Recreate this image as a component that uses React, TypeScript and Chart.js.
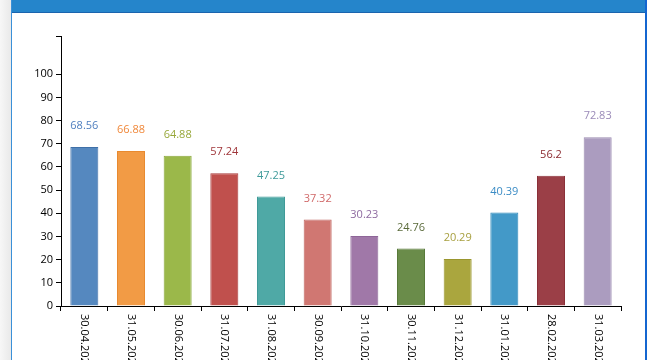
import React, { useEffect, useRef } from "react";
import { Chart, registerables } from "chart.js";

Chart.register(...registerables);

const categories = [
  "30.04.2022", "31.05.2022", "30.06.2022", "31.07.2022", "31.08.2022", "30.09.2022",
  "31.10.2022", "30.11.2022", "31.12.2022", "31.01.2023", "28.02.2023", "31.03.2023",
];
const values = [68.56, 66.88, 64.88, 57.24, 47.25, 37.32, 30.23, 24.76, 20.29, 40.39, 56.2, 72.83];
const barColors = [
  "#5588BF", "#F29B45", "#9BB84A", "#C0504D", "#4FA9A6", "#D07772",
  "#A078A8", "#6A8C4A", "#AAA63E", "#4399C8", "#9B3F47", "#AB9CBF",
];
const borderColors = [
  "#3F70A8", "#E88A30", "#8AA83C", "#A83A3A", "#3F9A98", "#C06560",
  "#8E6698", "#587A3A", "#9A962E", "#2F88BA", "#8A3038", "#9A8AB0",
];
const labelColors = [
  "#4F7FBF", "#F0883A", "#98A83A", "#A0363A", "#3E9A9A", "#D06868",
  "#8E6AA0", "#5A6A3A", "#A8A040", "#3B8CC5", "#8B2A30", "#9A8AB8",
];
const yTicks = [0, 10, 20, 30, 40, 50, 60, 70, 80, 90, 100];
const yMax = 116.5;

const FONT = "'Open Sans', 'DejaVu Sans', sans-serif";

export default function App() {
  const ref = useRef<HTMLCanvasElement | null>(null);
  useEffect(() => {
    const canvas = ref.current;
    if (!canvas) return;
    const valueLabels = {
      id: "valueLabels",
      afterDatasetsDraw(chart: any) {
        const ctx = chart.ctx;
        const meta = chart.getDatasetMeta(0);
        ctx.save();
        ctx.font = `11px ${FONT}`;
        ctx.textAlign = "center";
        ctx.textBaseline = "middle";
        meta.data.forEach((bar: any, i: number) => {
          ctx.fillStyle = labelColors[i];
          ctx.fillText(String(values[i]), bar.x, bar.y - 21);
        });
        ctx.restore();
      },
    };
    const xLabels = {
      id: "xLabels",
      afterDraw(chart: any) {
        const ctx = chart.ctx;
        const xs = chart.scales.x;
        const top = chart.chartArea.bottom + 8;
        ctx.save();
        ctx.font = `11px ${FONT}`;
        ctx.fillStyle = "#000";
        ctx.textAlign = "left";
        ctx.textBaseline = "middle";
        categories.forEach((c, i) => {
          const x = xs.getPixelForValue(i);
          ctx.save();
          ctx.translate(x, top);
          ctx.rotate(Math.PI / 2);
          ctx.fillText(c, 0, 0);
          ctx.restore();
        });
        ctx.restore();
      },
    };
    const chart = new Chart(canvas, {
      type: "bar",
      data: {
        labels: categories,
        datasets: [
          {
            data: values,
            backgroundColor: barColors,
            borderColor: borderColors,
            borderWidth: 1,
            barPercentage: 0.6,
            categoryPercentage: 1,
          },
        ],
      },
      options: {
        responsive: false,
        animation: false,
        devicePixelRatio: 1,
        layout: { padding: { top: 36, right: 29, bottom: 0, left: 0 } },
        plugins: { legend: { display: false }, tooltip: { enabled: false } },
        scales: {
          x: {
            grid: { drawOnChartArea: false, drawTicks: true, tickLength: 5, color: "#000", offset: true },
            border: { color: "#000", width: 1 },
            ticks: { display: false },
            afterFit: (s: any) => {
              s.height = 54;
            },
          },
          y: {
            min: 0,
            max: yMax,
            grid: { drawOnChartArea: false, drawTicks: true, tickLength: 5, color: "#000" },
            border: { color: "#000", width: 1 },
            ticks: {
              color: "#000",
              padding: 3,
              font: { family: FONT, size: 11 },
              callback: (v: any) => (Number(v) <= 100 ? String(v) : ""),
            },
            afterBuildTicks: (s: any) => {
              s.ticks = [...yTicks, yMax].map((v) => ({ value: v }));
            },
            afterFit: (s: any) => {
              s.width = 61;
            },
          },
        },
      },
      plugins: [valueLabels, xLabels],
    });
    return () => chart.destroy();
  }, []);

  return (
    <div style={{ position: "fixed", left: 0, top: 0, width: 650, height: 360, background: "#fff", overflow: "hidden" }}>
      <div style={{ position: "absolute", left: 0, top: 0, width: 11, height: 360, background: "linear-gradient(to right, #f7f7f7, #e9e9e9)" }} />
      <div style={{ position: "absolute", left: 11, top: 0, width: 636, height: 12, background: "#2585CB" }} />
      <div style={{ position: "absolute", left: 11, top: 12, width: 636, height: 1, background: "#1A64AE" }} />
      <div style={{ position: "absolute", left: 11, top: 0, width: 1, height: 360, background: "#3A90D8" }} />
      <div style={{ position: "absolute", left: 645, top: 0, width: 2, height: 360, background: "#1466D0" }} />
      <canvas ref={ref} width={650} height={360} style={{ position: "absolute", left: 0, top: 0, width: 650, height: 360 }} />
    </div>
  );
}
